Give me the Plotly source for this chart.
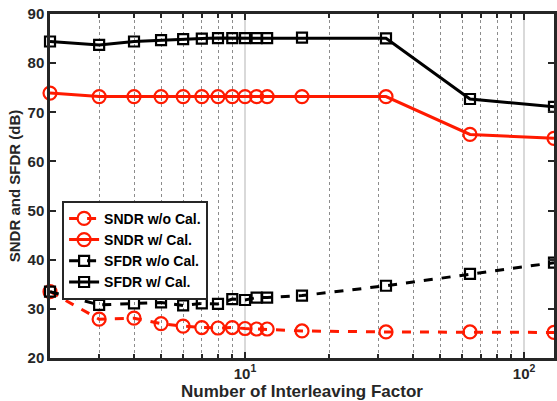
import plotly.graph_objects as go

x = [2, 3, 4, 5, 6, 7, 8, 9, 10, 11, 12, 16, 32, 64, 128]
sndr_wo = [33.5, 27.9, 28.1, 27.0, 26.5, 26.2, 26.1, 26.2, 26.0, 25.9, 25.9, 25.5, 25.3, 25.3, 25.2]
sndr_w = [73.9, 73.2, 73.2, 73.2, 73.2, 73.2, 73.2, 73.2, 73.2, 73.2, 73.2, 73.2, 73.2, 65.5, 64.7]
sfdr_wo = [33.5, 30.8, 31.1, 31.3, 30.7, 31.1, 31.0, 32.0, 31.8, 32.3, 32.3, 32.7, 34.7, 37.1, 39.4]
sfdr_w = [84.4, 83.7, 84.4, 84.7, 84.9, 85.0, 85.1, 85.1, 85.1, 85.1, 85.1, 85.2, 85.05, 72.7, 71.1]
yticks = [20, 30, 40, 50, 60, 70, 80, 90]
xmajor = [10, 100]
xmajor_text = ["10<sup>1</sup>", "10<sup>2</sup>"]
xminor = [3, 4, 5, 6, 7, 8, 9, 20, 30, 40, 50, 60, 70, 80, 90]

RED = "#ff1a00"
DARK = "#262626"
fig = go.Figure()
series = [
    ("SNDR w/o Cal.", sndr_wo, RED, "dash", "circle-open", 13),
    ("SNDR w/ Cal.", sndr_w, RED, "solid", "circle-open", 13),
    ("SFDR w/o Cal.", sfdr_wo, "black", "dash", "square-open", 10),
    ("SFDR w/ Cal.", sfdr_w, "black", "solid", "square-open", 10),
]
for name, y, c, d, m, s in series:
    fig.add_trace(go.Scatter(
        x=x, y=y, name=name, mode="lines+markers", cliponaxis=False,
        line=dict(color=c, width=3, dash=d),
        marker=dict(symbol=m, size=s, color=c, line=dict(color=c, width=2.2)),
    ))

FAM = "Liberation Sans, Arial"
fig.update_layout(
    width=557, height=401,
    margin=dict(l=50, r=0, t=14, b=43),
    plot_bgcolor="white", paper_bgcolor="white",
    font=dict(family=FAM, size=15, color=DARK),
    showlegend=True,
    legend=dict(
        x=0.024, y=0.457, xanchor="left", yanchor="top",
        bgcolor="white", bordercolor=DARK, borderwidth=2,
        font=dict(family=FAM, size=14, color="black", weight="bold"),
        tracegroupgap=0, itemwidth=30,
    ),
    xaxis=dict(
        type="log", range=[0.30100, 2.10725],
        tickvals=xmajor, ticktext=xmajor_text,
        showgrid=True, gridcolor="#d9d9d9", gridwidth=1.5,
        ticks="inside", ticklen=6, tickwidth=2, tickcolor=DARK,
        showline=True, linecolor=DARK, linewidth=2.5, mirror="ticks",
        minor=dict(tickmode="array", tickvals=xminor,
                   showgrid=True, gridcolor="#8c8c8c", griddash="dot", gridwidth=1.3,
                   ticks="inside", ticklen=4, tickcolor=DARK),
        title=dict(text="Number of Interleaving Factor", standoff=1,
                   font=dict(size=17, color=DARK, weight="bold")),
        tickfont=dict(size=15, color=DARK, weight="bold"),
        zeroline=False,
    ),
    yaxis=dict(
        range=[20, 90], tickvals=yticks,
        showgrid=False,
        ticks="inside", ticklen=6, tickwidth=2, tickcolor=DARK,
        showline=True, linecolor=DARK, linewidth=2.5, mirror="ticks",
        title=dict(text="SNDR and SFDR (dB)", standoff=4,
                   font=dict(size=15, color=DARK, weight="bold")),
        tickfont=dict(size=15, color=DARK, weight="bold"),
        zeroline=False,
    ),
)
fig.write_html("out.html")
